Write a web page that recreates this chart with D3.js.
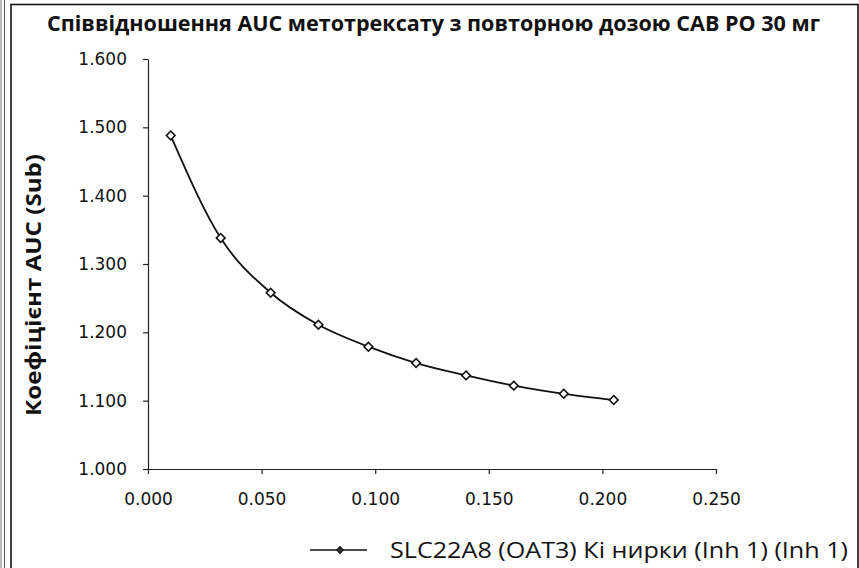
<!DOCTYPE html>
<html>
<head>
<meta charset="utf-8">
<script src="https://cdn.jsdelivr.net/npm/d3@7"></script>
<style>
  body { margin: 0; background: #fff; }
  svg { display: block; }
</style>
</head>
<body>
<div id="wrapper"></div>
<script>
// data
const title = 'Співвідношення AUC метотрексату з повторною дозою CAB PO 30 мг';
const yLabel = 'Коефіцієнт AUC (Sub)';
const seriesName = 'SLC22A8 (OAT3) Кі нирки (Inh 1) (Inh 1)';
const kiValues = [0.010, 0.032, 0.054, 0.075, 0.097, 0.118, 0.140, 0.161, 0.183, 0.205];
const aucRatio = [1.488, 1.338, 1.258, 1.211, 1.179, 1.155, 1.137, 1.122, 1.110, 1.101];
const xTicks = [0, 0.05, 0.10, 0.15, 0.20, 0.25];
const yTicks = [1.0, 1.1, 1.2, 1.3, 1.4, 1.5, 1.6];

function drawChart() {
    const width = 859;
    const height = 568;
    const plot = { left: 148, right: 716, top: 59, bottom: 469 };

    const data = kiValues.map((x, i) => ({ x: x, y: aucRatio[i] }));

    const svg = d3.select('#wrapper')
        .append('svg')
        .attr('width', width)
        .attr('height', height);

    // frame (scanned page edges)
    svg.append('line')
        .attr('x1', 1).attr('x2', 1).attr('y1', 0).attr('y2', height)
        .attr('stroke', '#777').attr('stroke-width', 1);
    svg.append('line')
        .attr('x1', 4.5).attr('x2', 4.5).attr('y1', 0).attr('y2', height)
        .attr('stroke', '#555').attr('stroke-width', 1);
    svg.append('rect')
        .attr('x', 11).attr('y', 4.5)
        .attr('width', 847).attr('height', 600)
        .attr('fill', 'none')
        .attr('stroke', '#111')
        .attr('stroke-width', 1.6);

    // scales
    const xScale = d3.scaleLinear()
        .domain([0, 0.25])
        .range([plot.left, plot.right]);

    const yScale = d3.scaleLinear()
        .domain([1.0, 1.6])
        .range([plot.bottom, plot.top]);

    // axes
    const yAxis = svg.append('g')
        .attr('transform', `translate(${plot.left},0)`)
        .call(d3.axisLeft(yScale)
            .tickValues(yTicks)
            .tickFormat(d3.format('.3f'))
            .tickSizeInner(5)
            .tickSizeOuter(0)
            .tickPadding(16));

    const xAxis = svg.append('g')
        .attr('transform', `translate(0,${plot.bottom})`)
        .call(d3.axisBottom(xScale)
            .tickValues(xTicks)
            .tickFormat(d3.format('.3f'))
            .tickSizeInner(5)
            .tickSizeOuter(0)
            .tickPadding(19));

    [yAxis, xAxis].forEach(axis => {
        axis.select('.domain').attr('stroke', '#222').attr('stroke-width', 1.2);
        axis.selectAll('.tick line').attr('stroke', '#222').attr('stroke-width', 1.2);
        axis.selectAll('.tick text')
            .attr('fill', '#111')
            .attr('font-family', 'DejaVu Sans, Verdana, sans-serif')
            .attr('font-size', 17);
    });

    // line
    const line = d3.line()
        .x(d => xScale(d.x))
        .y(d => yScale(d.y))
        .curve(d3.curveMonotoneX);

    svg.append('path')
        .datum(data)
        .attr('d', line)
        .attr('fill', 'none')
        .attr('stroke', '#111')
        .attr('stroke-width', 1.8);

    const diamond = d3.symbol().type(d3.symbolSquare).size(38);

    svg.selectAll('.marker')
        .data(data)
        .join('path')
        .attr('class', 'marker')
        .attr('d', diamond)
        .attr('transform', d => `translate(${xScale(d.x)},${yScale(d.y)}) rotate(45)`)
        .attr('fill', '#fff')
        .attr('stroke', '#111')
        .attr('stroke-width', 1.6);

    // title
    svg.append('text')
        .attr('x', 47)
        .attr('y', 31)
        .attr('textLength', 773)
        .attr('lengthAdjust', 'spacingAndGlyphs')
        .attr('font-family', 'Open Sans, sans-serif')
        .attr('font-weight', 'bold')
        .attr('font-size', 22)
        .attr('fill', '#111')
        .text(title);

    // y label
    svg.append('text')
        .attr('transform', 'translate(41,285) rotate(-90)')
        .attr('text-anchor', 'middle')
        .attr('textLength', 262)
        .attr('lengthAdjust', 'spacingAndGlyphs')
        .attr('font-family', 'Open Sans, sans-serif')
        .attr('font-weight', 'bold')
        .attr('font-size', 22)
        .attr('fill', '#111')
        .text(yLabel);

    // legend
    const legend = svg.append('g')
        .attr('transform', 'translate(310,550)');

    legend.append('line')
        .attr('x1', 0).attr('x2', 57)
        .attr('y1', 0).attr('y2', 0)
        .attr('stroke', '#111')
        .attr('stroke-width', 1.6);

    legend.append('path')
        .attr('d', d3.symbol().type(d3.symbolSquare).size(22))
        .attr('transform', 'translate(30,0) rotate(45)')
        .attr('fill', '#333')
        .attr('stroke', '#111')
        .attr('stroke-width', 1.2);

    legend.append('text')
        .attr('x', 80)
        .attr('y', 8)
        .attr('textLength', 458)
        .attr('lengthAdjust', 'spacingAndGlyphs')
        .attr('font-family', 'Open Sans, sans-serif')
        .attr('font-size', 22)
        .attr('fill', '#111')
        .text(seriesName);
}

drawChart();
</script>
</body>
</html>
